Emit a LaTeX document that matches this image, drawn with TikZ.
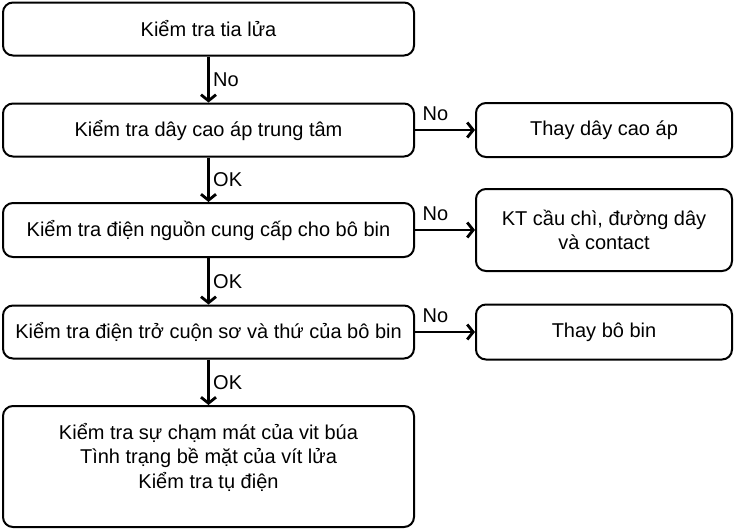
\documentclass[tikz,border=0pt]{standalone}
\usepackage{fontspec}
\setmainfont{Liberation Sans}
\usetikzlibrary{arrows.meta}

\begin{document}
\begin{tikzpicture}[x=1pt, y=1pt,
		font=\fontsize{20}{24.5}\selectfont,
		checkbox/.style={draw, line width=2pt, rounded corners=10pt, minimum width=411pt, minimum height=53pt, align=center},
		fixbox/.style={draw, line width=2pt, rounded corners=10pt, minimum width=256pt, minimum height=54pt, align=center},
		link/.style={line width=2.8pt, -{Straight Barb[length=6pt, width=15pt]}}]
		\useasboundingbox (0,0) rectangle (736,-531);

		\draw (208.5,-29) node [checkbox] (spark) {Kiểm tra tia lửa};
		\draw (208.5,-130) node [checkbox] (hv) {Kiểm tra dây cao áp trung tâm};
		\draw (208.5,-230) node [checkbox, minimum height=54pt] (supply) {Kiểm tra điện nguồn cung cấp cho bô bin};
		\draw (208.5,-332) node [checkbox] (coil) {Kiểm tra điện trở cuộn sơ và thứ của bô bin};
		\draw (208.5,-466.5) node [checkbox, minimum height=121pt, inner ysep=0pt] (points)
			{\parbox[c][119pt][t]{400pt}{\centering\vspace*{16pt}Kiểm tra sự chạm mát của vit búa\\Tình trạng bề mặt của vít lửa\\Kiểm tra tụ điện}};

		\draw (604,-130) node [fixbox] (newhv) {Thay dây cao áp};
		\draw (604,-230) node [fixbox, minimum height=82pt] (fuse) {KT cầu chì, đường dây\\và contact};
		\draw (604,-332) node [fixbox, minimum height=55pt] (newcoil) {Thay bô bin};

		\draw [link]
			(spark) edge node [right] {No} (hv)
			(hv) edge node [right] {OK} (supply)
			(supply) edge node [right] {OK} (coil)
			(coil) edge node [right] {OK} (points)
			(hv) edge node [above=5pt, pos=0.34] {No} (newhv)
			(supply) edge node [above=5pt, pos=0.34] {No} (fuse)
			(coil) edge node [above=5pt, pos=0.34] {No} (newcoil)
		;
	\end{tikzpicture}
\end{document}
